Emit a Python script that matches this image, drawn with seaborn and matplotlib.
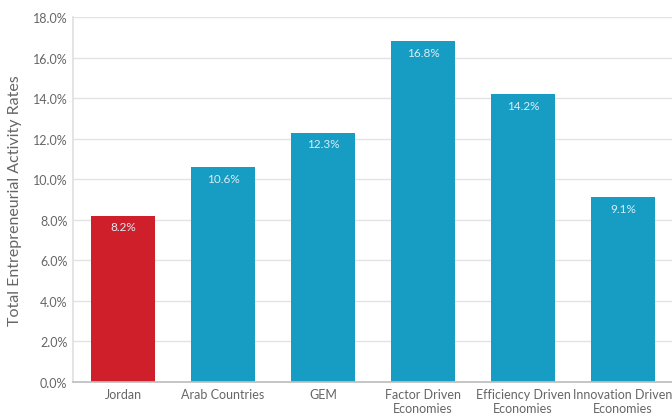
import matplotlib
matplotlib.use("Agg")
import matplotlib.pyplot as plt
import matplotlib.ticker as mticker
import seaborn as sns
import pandas as pd

categories = ["Jordan", "Arab Countries", "GEM", "Factor Driven\nEconomies",
              "Efficiency Driven\nEconomies", "Innovation Driven\nEconomies"]
rates = [8.2, 10.6, 12.3, 16.8, 14.2, 9.1]
bar_colors = ["#CF1F2B", "#179CC3", "#179CC3", "#179CC3", "#179CC3", "#179CC3"]

sns.set_theme(style="white")
plt.rcParams["font.family"] = ["Lato", "DejaVu Sans"]

df = pd.DataFrame({"cat": categories, "rate": rates})

fig = plt.figure(figsize=(6.72, 4.14), dpi=100)
ax = fig.add_axes([73 / 672, 31 / 414, 600 / 672, 365 / 414])

sns.barplot(data=df, x="cat", y="rate", hue="cat", palette=bar_colors,
            width=0.64, legend=False, ax=ax, saturation=1, linewidth=0)

ax.set_ylim(0, 18)
ax.set_xlim(-0.5, 5.5)
ax.yaxis.set_major_locator(mticker.MultipleLocator(2))
ax.yaxis.set_major_formatter(mticker.FuncFormatter(lambda v, _: f"{v:.1f}%"))
ax.grid(axis="y", color="#E3E3E3", linewidth=1)
ax.set_axisbelow(True)

for s in ["top", "right"]:
    ax.spines[s].set_visible(False)
ax.spines["left"].set_color("#E0E0E0")
ax.spines["bottom"].set_color("#BFBFBF")

ax.tick_params(axis="both", colors="#666666", labelsize=9, length=0, pad=4)
ax.set_xlabel("")
ax.set_ylabel("Total Entrepreneurial Activity Rates", fontsize=11.5,
              color="#666666", labelpad=8)

for i, v in enumerate(rates):
    ax.text(i, v - 0.55, f"{v:.1f}%", ha="center", va="center",
            fontsize=8.5, color="#D8EEF5")

fig.savefig("out.png", dpi=100)
